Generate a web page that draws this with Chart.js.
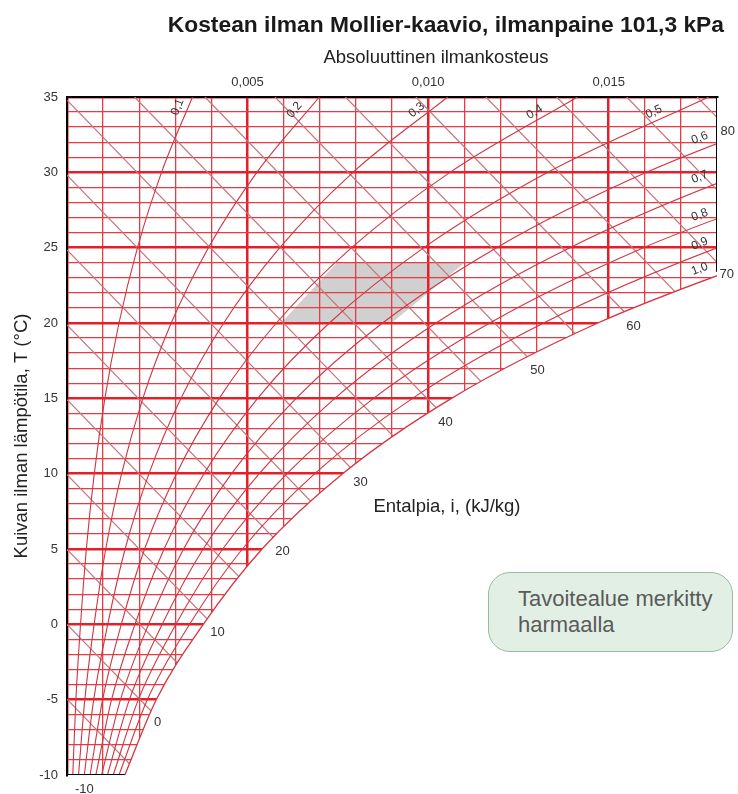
<!DOCTYPE html>
<html>
<head>
<meta charset="utf-8">
<title>Kostean ilman Mollier-kaavio</title>
<script src="https://cdn.jsdelivr.net/npm/chart.js@4.4.1/dist/chart.umd.min.js"></script>
<style>
  body { margin: 0; background: #fff; font-family: "Liberation Sans", Arial, sans-serif; }
  #wrap { position: relative; width: 738px; height: 794px; }
  #note {
    position: absolute; left: 488px; top: 572px; width: 245px; height: 80px;
    box-sizing: border-box; border: 1.5px solid #98bba2; border-radius: 22px;
    background: #e1efe5; color: #5a5a5a; font-size: 22px; line-height: 26px;
    padding: 13px 0 0 29px;
  }
</style>
</head>
<body>
<div id="wrap">
  <canvas id="mollier" width="738" height="794"></canvas>
  <div id="note">Tavoitealue merkitty<br>harmaalla</div>
</div>
<script>
// Lämpötilat (°C), joissa käyrien arvot on luettu
const temps = [-10, -5, 0, 5, 10, 15, 20, 25, 30, 35];

// Suhteellisen kosteuden käyrät: absoluuttinen kosteus (kg/kg) kussakin lämpötilassa
const rh10 = [0.00016, 0.000246, 0.000375, 0.000536, 0.000755, 0.001049, 0.00144, 0.001952, 0.002618, 0.003475];
const rh20 = [0.000319, 0.000493, 0.000751, 0.001073, 0.001512, 0.002101, 0.002886, 0.003916, 0.005258, 0.006989];
const rh30 = [0.000479, 0.00074, 0.001128, 0.00161, 0.00227, 0.003157, 0.004339, 0.005893, 0.007921, 0.010543];
const rh40 = [0.000639, 0.000986, 0.001504, 0.002149, 0.003031, 0.004216, 0.005798, 0.007882, 0.010606, 0.014137];
const rh50 = [0.000799, 0.001234, 0.001882, 0.002689, 0.003793, 0.005279, 0.007265, 0.009884, 0.013315, 0.017772];
const rh60 = [0.000959, 0.001481, 0.002259, 0.003229, 0.004557, 0.006345, 0.008738, 0.011898, 0.016046, 0.021449];
const rh70 = [0.00112, 0.001728, 0.002637, 0.003771, 0.005323, 0.007416, 0.010218, 0.013926, 0.018801, 0.025169];
const rh80 = [0.00128, 0.001976, 0.003016, 0.004313, 0.006091, 0.008489, 0.011706, 0.015966, 0.021581];
const rh90 = [0.00144, 0.002224, 0.003395, 0.004856, 0.006861, 0.009567, 0.0132, 0.01802, 0.024384];
const rh100 = [0.001601, 0.002472, 0.003774, 0.005401, 0.007633, 0.010648, 0.014701, 0.020087]; // kyllästyskäyrä
const rhCurves = [rh10, rh20, rh30, rh40, rh50, rh60, rh70, rh80, rh90];
const rhNames = ['0,1', '0,2', '0,3', '0,4', '0,5', '0,6', '0,7', '0,8', '0,9', '1,0'];

// Entalpiasuorat (kJ/kg): alku- ja loppupiste (kosteus kg/kg, lämpötila °C)
const enthalpy = [-10, -5, 0, 5, 10, 15, 20, 25, 30, 35, 40, 45, 50, 55, 60, 65, 70, 75, 80];
const enthStartX = [0, 0, 0, 0, 0, 0, 0, 0, 0, 0, 0.00187, 0.00382, 0.00576, 0.00771, 0.00966, 0.0116, 0.01356, 0.0155, 0.01745];
const enthStartT = [-9.94, -4.97, 0, 4.97, 9.94, 14.91, 19.88, 24.85, 29.82, 34.79, 35, 35, 35, 35, 35, 35, 35, 35, 35];
const enthEndX = [0.00002, 0.00203, 0.00405, 0.00607, 0.00808, 0.0101, 0.0121, 0.0141, 0.0161, 0.018, 0.018, 0.018, 0.018, 0.018, 0.018, 0.018, 0.018, 0.018, 0.018];
const enthEndT = [-10, -10, -10, -10, -10, -10, -10, -10, -10, -9.64, -4.83, -0.02, 4.79, 9.6, 14.41, 19.22, 24.03, 28.84, 33.65];

// Tavoitealue (harmaa): kosteus ja lämpötila kulmapisteissä
const targetX = [0.00593, 0.00747, 0.01101, 0.00899];
const targetT = [20, 24, 24, 20];

// Kehyksen oikea ja alareuna kyllästyskäyrään asti
const frameRightX = [0.018, 0.018];
const frameRightT = [35, 23.4];
const frameBottomX = [0, 0.0016];
const frameBottomT = [-10, -10];

// Akselit ja asteikkojen tekstit
const humidityTicks = [0.005, 0.010, 0.015];
const tempTicks = [-10, -5, 0, 5, 10, 15, 20, 25, 30, 35];
const enthLabels = ['-10', '0', '10', '20', '30', '40', '50', '60', '70', '80'];

// Tekstien paikat kuvan koordinaateissa (kosteus, lämpötila)
const enthLabelAt = [[0.00048, -10.99], [0.00251, -6.54], [0.00417, -0.57], [0.00597, 4.87], [0.00813, 9.39],
  [0.01048, 13.37], [0.01303, 16.82], [0.01569, 19.8], [0.01827, 23.25], [0.0183, 32.74]];
const rhLabelAt = [[0.00306, 34.34], [0.0063, 34.14], [0.00968, 34.14], [0.01295, 34.0], [0.01625, 34.0],
  [0.01752, 32.28], [0.01752, 29.69], [0.01752, 27.17], [0.01752, 25.25], [0.01752, 23.59]];
const rhLabelAngle = [-68, -50, -39, -31, -25, -21, -22, -21, -22, -21];

const FONT = '"Liberation Sans", Arial, sans-serif';
Chart.defaults.font.family = FONT;

const pts = (xs, ts) => xs.map((v, i) => ({ x: v, y: ts[i] }));
const isMajorX = c => c.tick && Math.round(c.tick.value * 1000) % 5 === 0;
const isMajorY = c => c.tick && Math.round(c.tick.value) % 5 === 0;

const datasets = [];

// entalpiasuorat piirretään ensin, valkoinen täyttö peittää kyllästyskäyrän alapuolen
enthalpy.forEach((h, i) => {
  datasets.push({
    label: 'i = ' + h,
    data: [{ x: enthStartX[i], y: enthStartT[i] }, { x: enthEndX[i], y: enthEndT[i] }],
    borderColor: '#c9737b', borderWidth: 1.2, pointRadius: 0, order: 3
  });
});

datasets.push({
  label: 'kyllästys',
  data: pts(rh100, temps),
  borderColor: '#d8333f', borderWidth: 1.3, pointRadius: 0,
  fill: 'start', backgroundColor: '#ffffff',
  cubicInterpolationMode: 'monotone', order: 2
});

rhCurves.forEach((c, k) => {
  datasets.push({
    label: 'RH ' + rhNames[k],
    data: pts(c, temps),
    borderColor: '#d2343f', borderWidth: 1.1, pointRadius: 0,
    cubicInterpolationMode: 'monotone', order: 1
  });
});

datasets.push({ label: 'reuna', data: pts(frameRightX, frameRightT), borderColor: '#000', borderWidth: 2, pointRadius: 0, order: 0 });
datasets.push({ label: 'pohja', data: pts(frameBottomX, frameBottomT), borderColor: '#000', borderWidth: 2, pointRadius: 0, order: 0 });

const overlay = {
  id: 'overlay',
  beforeDraw(chart) {
    // harmaa tavoitealue ruudukon alle
    const { ctx, scales: { x, y } } = chart;
    ctx.save();
    ctx.fillStyle = '#d0d0d0';
    ctx.beginPath();
    targetX.forEach((v, i) => {
      const px = x.getPixelForValue(v), py = y.getPixelForValue(targetT[i]);
      if (i === 0) ctx.moveTo(px, py); else ctx.lineTo(px, py);
    });
    ctx.closePath();
    ctx.fill();
    ctx.restore();
  },
  afterDraw(chart) {
    const { ctx, scales: { x, y } } = chart;
    ctx.save();
    ctx.fillStyle = '#1a1a1a';
    ctx.font = 'bold 22.8px ' + FONT;
    ctx.textAlign = 'right';
    ctx.textBaseline = 'alphabetic';
    ctx.fillText('Kostean ilman Mollier-kaavio, ilmanpaine 101,3 kPa', 724, 32);

    ctx.fillStyle = '#222';
    ctx.font = '18.5px ' + FONT;
    ctx.textAlign = 'center';
    ctx.fillText('Absoluuttinen ilmankosteus', 436, 63);
    ctx.fillText('Entalpia, i, (kJ/kg)', 447, 512);

    ctx.fillStyle = '#333';
    ctx.font = '13px ' + FONT;
    ctx.textBaseline = 'middle';
    enthLabels.forEach((t, i) => {
      ctx.fillText(t, x.getPixelForValue(enthLabelAt[i][0]), y.getPixelForValue(enthLabelAt[i][1]));
    });

    ctx.font = '12px ' + FONT;
    rhNames.forEach((t, i) => {
      ctx.save();
      ctx.translate(x.getPixelForValue(rhLabelAt[i][0]), y.getPixelForValue(rhLabelAt[i][1]));
      ctx.rotate(rhLabelAngle[i] * Math.PI / 180);
      ctx.fillText(t, 0, 0);
      ctx.restore();
    });
    ctx.restore();
  }
};

new Chart(document.getElementById('mollier'), {
  type: 'line',
  data: { datasets: datasets },
  options: {
    responsive: false,
    animation: false,
    layout: { padding: { left: 0, right: 21, top: 30, bottom: 19 } },
    plugins: { legend: { display: false }, tooltip: { enabled: false } },
    scales: {
      x: {
        type: 'linear', position: 'top', min: 0, max: 0.018,
        afterFit: s => { s.height = 67; },
        border: { display: true, color: '#000', width: 2 },
        grid: {
          drawTicks: false,
          color: c => (c.tick && Math.round(c.tick.value * 1000) === 18) ? 'rgba(0,0,0,0)' : (isMajorX(c) ? '#e3202a' : '#e63a44'),
          lineWidth: c => isMajorX(c) ? 2.5 : 1.3
        },
        ticks: {
          stepSize: 0.001, autoSkip: false, maxRotation: 0, padding: 7,
          color: '#333', font: { size: 13 },
          callback: v => humidityTicks.some(t => Math.round(t * 1000) === Math.round(v * 1000)) ? v.toFixed(3).replace('.', ',') : ''
        }
      },
      y: {
        type: 'linear', min: -10, max: 35,
        afterFit: s => { s.width = 67; },
        border: { display: true, color: '#000', width: 2 },
        grid: {
          drawTicks: false,
          color: c => (c.tick && c.tick.value === -10) ? 'rgba(0,0,0,0)' : (isMajorY(c) ? '#e3202a' : '#e63a44'),
          lineWidth: c => isMajorY(c) ? 2.5 : 1.3
        },
        ticks: {
          stepSize: 1, autoSkip: false, padding: 9,
          color: '#333', font: { size: 13 },
          callback: v => tempTicks.includes(v) ? String(v) : ''
        },
        title: {
          display: true, text: 'Kuivan ilman lämpötila, T (°C)',
          color: '#222', font: { size: 18.5 }, padding: { top: 11, bottom: 0 }
        }
      }
    }
  },
  plugins: [overlay]
});
</script>
</body>
</html>
